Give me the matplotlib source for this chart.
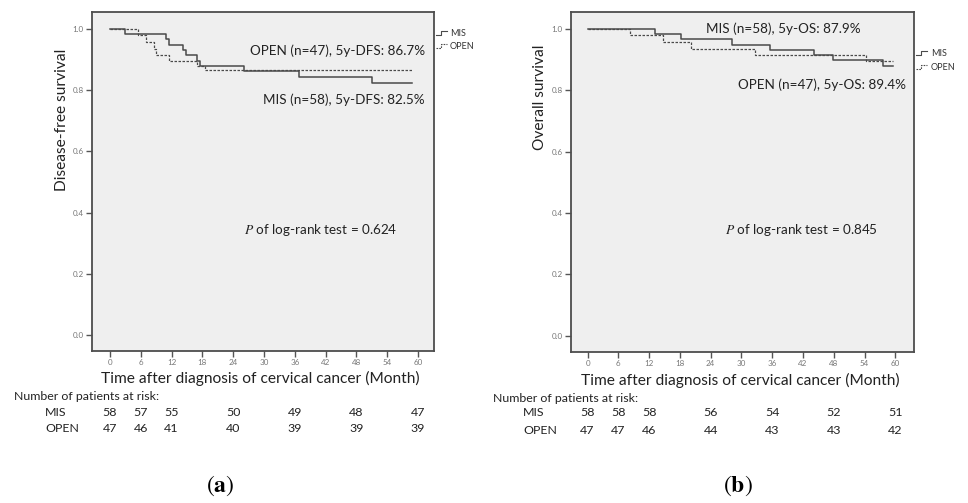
import matplotlib
matplotlib.use("Agg")
import matplotlib.pyplot as plt
from matplotlib.lines import Line2D
import matplotlib.transforms as mtransforms

plt.rcParams['font.family'] = ['Lato', 'DejaVu Sans']
plt.rcParams['mathtext.fontset'] = 'stix'

# ---------------- data ----------------
ticks_month = [0, 6, 12, 18, 24, 30, 36, 42, 48, 54, 60]
yticks = [0.0, 0.2, 0.4, 0.6, 0.8, 1.0]

# (a) disease-free survival: step times (months) and survival after each step
dfs_mis_t = [0, 2.9, 10.9, 11.5, 14.2, 14.8, 16.9, 17.5, 26.1, 36.8, 51.0, 58.8]
dfs_mis_s = [1.0, 0.983, 0.966, 0.948, 0.931, 0.914, 0.897, 0.879, 0.862, 0.843, 0.825, 0.825]
dfs_open_t = [0, 5.5, 7.1, 8.6, 8.9, 11.4, 17.0, 18.5, 58.8]
dfs_open_s = [1.0, 0.979, 0.957, 0.936, 0.915, 0.894, 0.880, 0.867, 0.867]

# (b) overall survival
os_mis_t = [0, 13.2, 18.3, 28.2, 35.6, 44.2, 47.8, 57.6, 59.5]
os_mis_s = [1.0, 0.983, 0.966, 0.948, 0.931, 0.914, 0.897, 0.879, 0.879]
os_open_t = [0, 8.3, 14.8, 20.2, 32.7, 54.3, 59.5]
os_open_s = [1.0, 0.979, 0.957, 0.936, 0.915, 0.894, 0.894]

risk_months = [0, 6, 12, 24, 36, 48, 60]
risk_a_mis = [58, 57, 55, 50, 49, 48, 47]
risk_a_open = [47, 46, 41, 40, 39, 39, 39]
risk_b_mis = [58, 58, 58, 56, 54, 52, 51]
risk_b_open = [47, 47, 46, 44, 43, 43, 42]

# ---------------- figure ----------------
W, H = 968, 503
fig = plt.figure(figsize=(W / 100, H / 100), dpi=100)
fig.patch.set_facecolor('white')


def fx(px):
    return px / W


def fy(py):
    return 1 - py / H


line_col = '#4a4a4a'
frame_col = '#4d4d4d'
bg = '#efefef'
txt = '#222222'


def make_axes(x0, y0, x1, y1, xlim, ylim):
    ax = fig.add_axes([fx(x0), fy(y1), fx(x1) - fx(x0), fy(y0) - fy(y1)])
    ax.set_facecolor(bg)
    ax.set_xlim(*xlim)
    ax.set_ylim(*ylim)
    ax.set_xticks(ticks_month)
    ax.set_yticks(yticks)
    ax.set_yticklabels([f"{v:.1f}" for v in yticks])
    ax.tick_params(axis='both', labelsize=5.8, colors='#777777', length=4, width=1.0,
                   direction='out', pad=2)
    ax.tick_params(axis='both', color='#555555')
    for s in ax.spines.values():
        s.set_color(frame_col)
        s.set_linewidth(1.3)
    return ax


def km(ax, t, s, dashed=False):
    ax.step(t, s, where='post', color=line_col,
            lw=1.1 if not dashed else 0.9,
            ls=(0, (2.0, 1.2)) if dashed else '-')


def legend_glyph(x, y, dashed):
    xs = [x, x + 5, x + 5, x + 11]
    ys = [y + 2, y + 2, y - 2, y - 2]
    fig.add_artist(Line2D([fx(v) for v in xs], [fy(v) for v in ys], color=line_col,
                          lw=0.8, ls=(0, (1.5, 1)) if dashed else '-',
                          transform=fig.transFigure))


annot_fs = 9.7
label_fs = 11.2
risk_fs = 8.9

# ---------- panel (a) ----------
axa = make_axes(92, 12, 434, 351, (-3.5, 63.1), (-0.0525, 1.0557))
km(axa, dfs_mis_t, dfs_mis_s)
km(axa, dfs_open_t, dfs_open_s, dashed=True)

fig.text(fx(425), fy(51), "OPEN (n=47), 5y-DFS: 86.7%", ha='right', va='center', fontsize=annot_fs, color=txt)
fig.text(fx(425), fy(100), "MIS (n=58), 5y-DFS: 82.5%", ha='right', va='center', fontsize=annot_fs, color=txt)
fig.text(fx(244), fy(230), r"$\it{P}$ of log-rank test = 0.624", ha='left', va='center', fontsize=annot_fs, color=txt)
fig.text(fx(62), fy(120), "Disease-free survival", rotation=90, ha='center', va='center', fontsize=label_fs, color=txt)
fig.text(fx(260), fy(378), "Time after diagnosis of cervical cancer (Month)", ha='center', va='center', fontsize=label_fs, color=txt)

legend_glyph(436, 33, False)
fig.text(fx(450), fy(33), "MIS", ha='left', va='center', fontsize=6.5, color='#333333')
legend_glyph(436, 46, True)
fig.text(fx(450), fy(46), "OPEN", ha='left', va='center', fontsize=6.5, color='#333333')

trans_a = mtransforms.blended_transform_factory(axa.transData, fig.transFigure)
fig.text(fx(14), fy(397), "Number of patients at risk:", ha='left', va='center', fontsize=risk_fs, color=txt)
fig.text(fx(45), fy(412), "MIS", ha='left', va='center', fontsize=risk_fs, color=txt)
fig.text(fx(45), fy(428), "OPEN", ha='left', va='center', fontsize=risk_fs, color=txt)
for m, a, b in zip(risk_months, risk_a_mis, risk_a_open):
    fig.text(m, fy(412), str(a), transform=trans_a, ha='center', va='center', fontsize=risk_fs, color=txt)
    fig.text(m, fy(428), str(b), transform=trans_a, ha='center', va='center', fontsize=risk_fs, color=txt)

fig.text(fx(220), fy(486), r"$(\mathbf{a})$", ha='center', va='center', fontsize=17, color='black')

# ---------- panel (b) ----------
axb = make_axes(571, 12, 914, 352, (-3.23, 63.65), (-0.053, 1.055))
km(axb, os_mis_t, os_mis_s)
km(axb, os_open_t, os_open_s, dashed=True)

fig.text(fx(861), fy(29), "MIS (n=58), 5y-OS: 87.9%", ha='right', va='center', fontsize=annot_fs, color=txt)
fig.text(fx(906), fy(85), "OPEN (n=47), 5y-OS: 89.4%", ha='right', va='center', fontsize=annot_fs, color=txt)
fig.text(fx(725), fy(230), r"$\it{P}$ of log-rank test = 0.845", ha='left', va='center', fontsize=annot_fs, color=txt)
fig.text(fx(540), fy(97), "Overall survival", rotation=90, ha='center', va='center', fontsize=label_fs, color=txt)
fig.text(fx(740), fy(380), "Time after diagnosis of cervical cancer (Month)", ha='center', va='center', fontsize=label_fs, color=txt)

legend_glyph(916, 53, False)
fig.text(fx(931), fy(53), "MIS", ha='left', va='center', fontsize=6.5, color='#333333')
legend_glyph(916, 67, True)
fig.text(fx(931), fy(67), "OPEN", ha='left', va='center', fontsize=6.5, color='#333333')

trans_b = mtransforms.blended_transform_factory(axb.transData, fig.transFigure)
fig.text(fx(493), fy(398), "Number of patients at risk:", ha='left', va='center', fontsize=risk_fs, color=txt)
fig.text(fx(523), fy(413), "MIS", ha='left', va='center', fontsize=risk_fs, color=txt)
fig.text(fx(523), fy(430), "OPEN", ha='left', va='center', fontsize=risk_fs, color=txt)
for m, a, b in zip(risk_months, risk_b_mis, risk_b_open):
    fig.text(m, fy(413), str(a), transform=trans_b, ha='center', va='center', fontsize=risk_fs, color=txt)
    fig.text(m, fy(430), str(b), transform=trans_b, ha='center', va='center', fontsize=risk_fs, color=txt)

fig.text(fx(738), fy(486), r"$(\mathbf{b})$", ha='center', va='center', fontsize=17, color='black')

fig.savefig("out.png", dpi=100, facecolor='white')
